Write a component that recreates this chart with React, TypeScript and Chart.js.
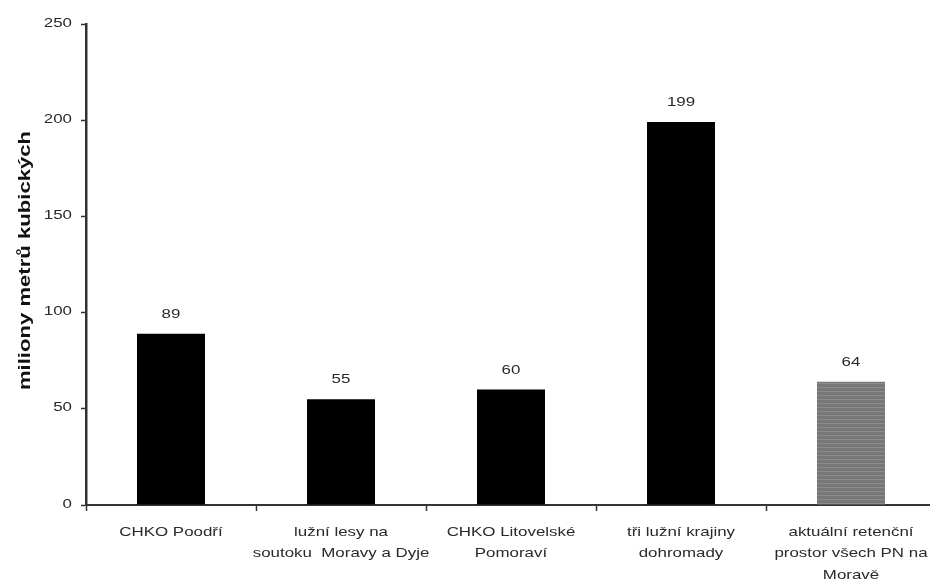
import React, { useEffect, useRef } from "react";
import { Chart, registerables } from "chart.js";

Chart.register(...registerables);

const categories: string[][] = [
  ["CHKO Poodří"],
  ["lužní lesy na", "soutoku  Moravy a Dyje"],
  ["CHKO Litovelské", "Pomoraví"],
  ["tři lužní krajiny", "dohromady"],
  ["aktuální retenční", "prostor všech PN na", "Moravě"],
];
const volumes = [89, 55, 60, 199, 64];
const yTicks = [0, 50, 100, 150, 200, 250];
const yTitle = "miliony metrů kubických";

// all text on this chart is set in a wide face: Arial drawn 1.3x wider
const WIDE = 1.3;
const FONT = "Arial, 'Liberation Sans', sans-serif";

function stripePattern(): CanvasPattern | string {
  const c = document.createElement("canvas");
  c.width = 4;
  c.height = 4;
  const g = c.getContext("2d");
  if (!g) return "#7a7a7a";
  g.fillStyle = "#777777";
  g.fillRect(0, 0, 4, 4);
  g.fillStyle = "#8c8c8c";
  g.fillRect(0, 3, 4, 1);
  return g.createPattern(c, "repeat") || "#7a7a7a";
}

function wideText(
  ctx: CanvasRenderingContext2D,
  text: string,
  x: number,
  y: number,
  align: CanvasTextAlign,
  rotate = 0
) {
  ctx.save();
  ctx.translate(x, y);
  if (rotate) ctx.rotate(rotate);
  ctx.scale(WIDE, 1);
  ctx.textAlign = align;
  ctx.textBaseline = "middle";
  ctx.fillText(text, 0, 0);
  ctx.restore();
}

const chartText = {
  id: "chartText",
  afterDraw(chart: any) {
    const ctx: CanvasRenderingContext2D = chart.ctx;
    const xs = chart.scales.x;
    const ys = chart.scales.y;
    ctx.save();

    // y tick labels
    ctx.font = `13px ${FONT}`;
    ctx.fillStyle = "#2a2a2a";
    yTicks.forEach((v) => {
      wideText(ctx, String(v), ys.left + ys.width - 14, ys.getPixelForValue(v) - 1, "right");
    });

    // category labels
    categories.forEach((lines, i) => {
      const cx = xs.getPixelForValue(i);
      lines.forEach((line, j) => {
        wideText(ctx, line, cx, xs.top + 27 + j * 21.5, "center");
      });
    });

    // value labels above bars
    const meta = chart.getDatasetMeta(0);
    meta.data.forEach((bar: any, i: number) => {
      wideText(ctx, String(volumes[i]), bar.x, bar.y - 19.5, "center");
    });

    // y axis title
    ctx.font = `bold 17px ${FONT}`;
    ctx.fillStyle = "#111";
    wideText(ctx, yTitle, 25, (ys.top + ys.bottom) / 2 - 4, "center", -Math.PI / 2);

    ctx.restore();
  },
};

export default function App() {
  const ref = useRef<HTMLCanvasElement>(null);

  useEffect(() => {
    if (!ref.current) return;
    const pattern = stripePattern();
    const colors = volumes.map((_, i) => (i === volumes.length - 1 ? pattern : "#000000"));
    const chart = new Chart(ref.current, {
      type: "bar",
      data: {
        labels: categories.map((c) => c.join(" ")),
        datasets: [
          {
            data: volumes,
            backgroundColor: colors as any,
            borderWidth: 0,
            barPercentage: 0.4,
            categoryPercentage: 1,
          },
        ],
      },
      options: {
        animation: false,
        responsive: false,
        maintainAspectRatio: false,
        layout: { padding: { top: 24, right: 14, left: 0, bottom: 0 } },
        plugins: {
          legend: { display: false },
          tooltip: { enabled: false },
        },
        scales: {
          x: {
            grid: {
              display: true,
              offset: true,
              drawOnChartArea: false,
              drawTicks: true,
              tickLength: 6,
              tickColor: "#333",
              tickWidth: 1.5,
            },
            border: { display: true, color: "#333", width: 2 },
            ticks: { display: false, autoSkip: false },
            afterFit(scale: any) {
              scale.height = 76;
            },
          },
          y: {
            min: 0,
            max: 250,
            afterBuildTicks(scale: any) {
              scale.ticks = yTicks.map((v) => ({ value: v }));
            },
            grid: {
              display: true,
              drawOnChartArea: false,
              drawTicks: true,
              tickLength: 5,
              tickColor: "#333",
              tickWidth: 1.5,
            },
            border: { display: true, color: "#333", width: 2.5 },
            ticks: { display: false },
            afterFit(scale: any) {
              scale.width = 86;
            },
          },
        },
      },
      plugins: [chartText],
    });
    return () => chart.destroy();
  }, []);

  return (
    <div
      style={{
        position: "fixed",
        left: 0,
        top: 0,
        width: 930,
        height: 581,
        overflow: "hidden",
        background: "#fff",
      }}
    >
      <canvas ref={ref} width={950} height={581} style={{ display: "block" }} />
    </div>
  );
}
